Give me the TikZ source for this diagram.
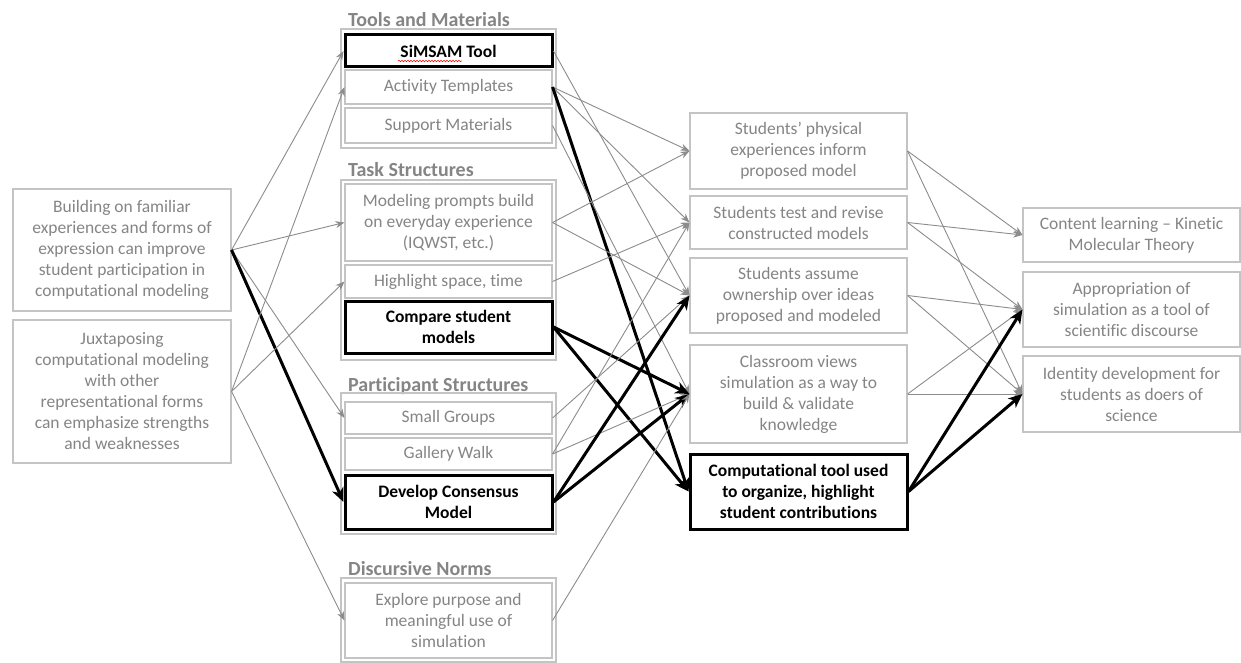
\documentclass[tikz,border=0pt]{standalone}
\usepackage{fontspec}
\setmainfont{Carlito}[Ligatures={NoCommon,NoRequired}, Contextuals=NoAlternate]
\usetikzlibrary{arrows.meta,decorations.pathmorphing}
\definecolor{txtgray}{HTML}{858585}
\definecolor{boxgray}{HTML}{C4C4C4}
\definecolor{arrgray}{HTML}{8C8C8C}
\begin{document}
\begin{tikzpicture}[x=1pt,y=-1pt,
  bx/.style={draw=boxgray, line width=1.1pt, text=txtgray, align=center, inner sep=0pt, font=\fontsize{17.5}{21}\selectfont},
  hbx/.style={bx, draw=black, line width=3pt, text=black, font=\bfseries\fontsize{17.5}{21}\selectfont},
  grp/.style={draw=boxgray, line width=1.1pt},
  ttl/.style={anchor=base west, text=txtgray, font=\bfseries\fontsize{20}{24}\selectfont, inner sep=0pt},
  ta/.style={draw=arrgray, line width=0.9pt, -{Stealth[length=9pt,width=7pt]}},
  tk/.style={draw=black, line width=3pt, -{Stealth[length=14pt,width=12pt,inset=4pt]}},
]
\fill[white] (0,0) rectangle (1241,663);
\useasboundingbox (0,0) rectangle (1241,663);

% left column
\node[bx, minimum width=218pt, minimum height=122pt] (L1) at (122,250) {Building on familiar\\experiences and forms of\\expression can improve\\student participation in\\computational modeling};
\node[bx, minimum width=218pt, minimum height=143pt] (L2) at (122,391.5) {Juxtaposing\\computational modeling\\with other\\representational forms\\can emphasize strengths\\and weaknesses};

% middle column groups
\node[ttl] (t1) at (348,27) {Tools and Materials};
\draw[grp] (341,29) rectangle (556,148);
\node[hbx, minimum width=207pt, minimum height=32pt] (sim) at (448.5,51) {SiMSAM Tool};
\node[bx, minimum width=207pt, minimum height=34pt] (act) at (448.5,87) {Activity Templates};
\node[bx, minimum width=207pt, minimum height=35pt] (sup) at (448.5,125.5) {Support Materials};
\draw[red, line width=0.5pt, decorate, decoration={snake, amplitude=0.8pt, segment length=3pt}] (398,61) -- (462,61);

\node[ttl] (t2) at (348,176) {Task Structures};
\draw[grp] (341,180) rectangle (556,360);
\node[bx, minimum width=207pt, minimum height=77pt] (mod) at (448.5,222.5) {Modeling prompts build\\on everyday experience\\(IQWST, etc.)};
\node[bx, minimum width=207pt, minimum height=33pt] (hl) at (448.5,281.5) {Highlight space, time};
\node[hbx, minimum width=207pt, minimum height=52pt] (cmp) at (448.5,327) {Compare student\\models};

\node[ttl] (t3) at (348,391) {Participant Structures};
\draw[grp] (341,393) rectangle (556,534);
\node[bx, minimum width=207pt, minimum height=32pt] (small) at (448.5,418) {Small Groups};
\node[bx, minimum width=207pt, minimum height=32pt] (gal) at (448.5,454) {Gallery Walk};
\node[hbx, minimum width=207pt, minimum height=54pt] (dev) at (448.5,502) {Develop Consensus\\Model};

\node[ttl] (t4) at (348,575) {Discursive Norms};
\draw[grp] (341,578) rectangle (556,662);
\node[bx, minimum width=207pt, minimum height=75pt] (exp) at (448.5,620.5) {Explore purpose and\\meaningful use of\\simulation};

% right column 1
\node[bx, minimum width=217pt, minimum height=76pt] (phys) at (798.5,151) {Students’ physical\\experiences inform\\proposed model};
\node[bx, minimum width=217pt, minimum height=53pt] (test) at (798.5,222.5) {Students test and revise\\constructed models};
\node[bx, minimum width=217pt, minimum height=75pt] (own) at (798.5,295.5) {Students assume\\ownership over ideas\\proposed and modeled};
\node[bx, minimum width=217pt, minimum height=98pt] (cls) at (798.5,394) {Classroom views\\simulation as a way to\\build \& validate\\knowledge};
\node[hbx, minimum width=217pt, minimum height=75pt] (comp) at (798.5,491.5) {Computational tool used\\to organize, highlight\\student contributions};

% right column 2
\node[bx, minimum width=217pt, minimum height=54pt] (cont) at (1131.5,235) {Content learning – Kinetic\\Molecular Theory};
\node[bx, minimum width=217pt, minimum height=75pt] (appr) at (1131.5,309.5) {Appropriation of\\simulation as a tool of\\scientific discourse};
\node[bx, minimum width=217pt, minimum height=76pt] (iden) at (1131.5,394) {Identity development for\\students as doers of\\science};

% left -> middle
\draw[ta] (L1.east) -- (sim.west);
\draw[ta] (L1.east) -- (mod.west);
\draw[ta] (L1.east) -- (small.west);
\draw[tk] (L1.east) -- (dev.west);
\draw[ta] (L2.east) -- (act.west);
\draw[ta] (L2.east) -- (hl.west);
\draw[ta] (L2.east) -- (exp.west);

% middle -> right 1
\draw[ta] (sim.east) -- (own.west);
\draw[ta] (act.east) -- (phys.west);
\draw[ta] (act.east) -- (test.west);
\draw[tk] (act.east) -- (comp.west);
\draw[ta] (sup.east) -- (cls.west);
\draw[ta] (mod.east) -- (phys.west);
\draw[ta] (mod.east) -- (own.west);
\draw[ta] (hl.east) -- (test.west);
\draw[tk] (cmp.east) -- (cls.west);
\draw[tk] (cmp.east) -- (comp.west);
\draw[ta] (small.east) -- (own.west);
\draw[ta] (gal.east) -- (test.west);
\draw[ta] (gal.east) -- (cls.west);
\draw[tk] (dev.east) -- (own.west);
\draw[tk] (dev.east) -- (cls.west);
\draw[ta] (exp.east) -- (cls.west);

% right 1 -> right 2
\draw[ta] (phys.east) -- (cont.west);
\draw[ta] (phys.east) -- (iden.west);
\draw[ta] (test.east) -- (cont.west);
\draw[ta] (test.east) -- (appr.west);
\draw[ta] (own.east) -- (appr.west);
\draw[ta] (own.east) -- (iden.west);
\draw[ta] (cls.east) -- (appr.west);
\draw[ta] (cls.east) -- (iden.west);
\draw[tk] (comp.east) -- (appr.west);
\draw[tk] (comp.east) -- (iden.west);
\end{tikzpicture}
\end{document}
